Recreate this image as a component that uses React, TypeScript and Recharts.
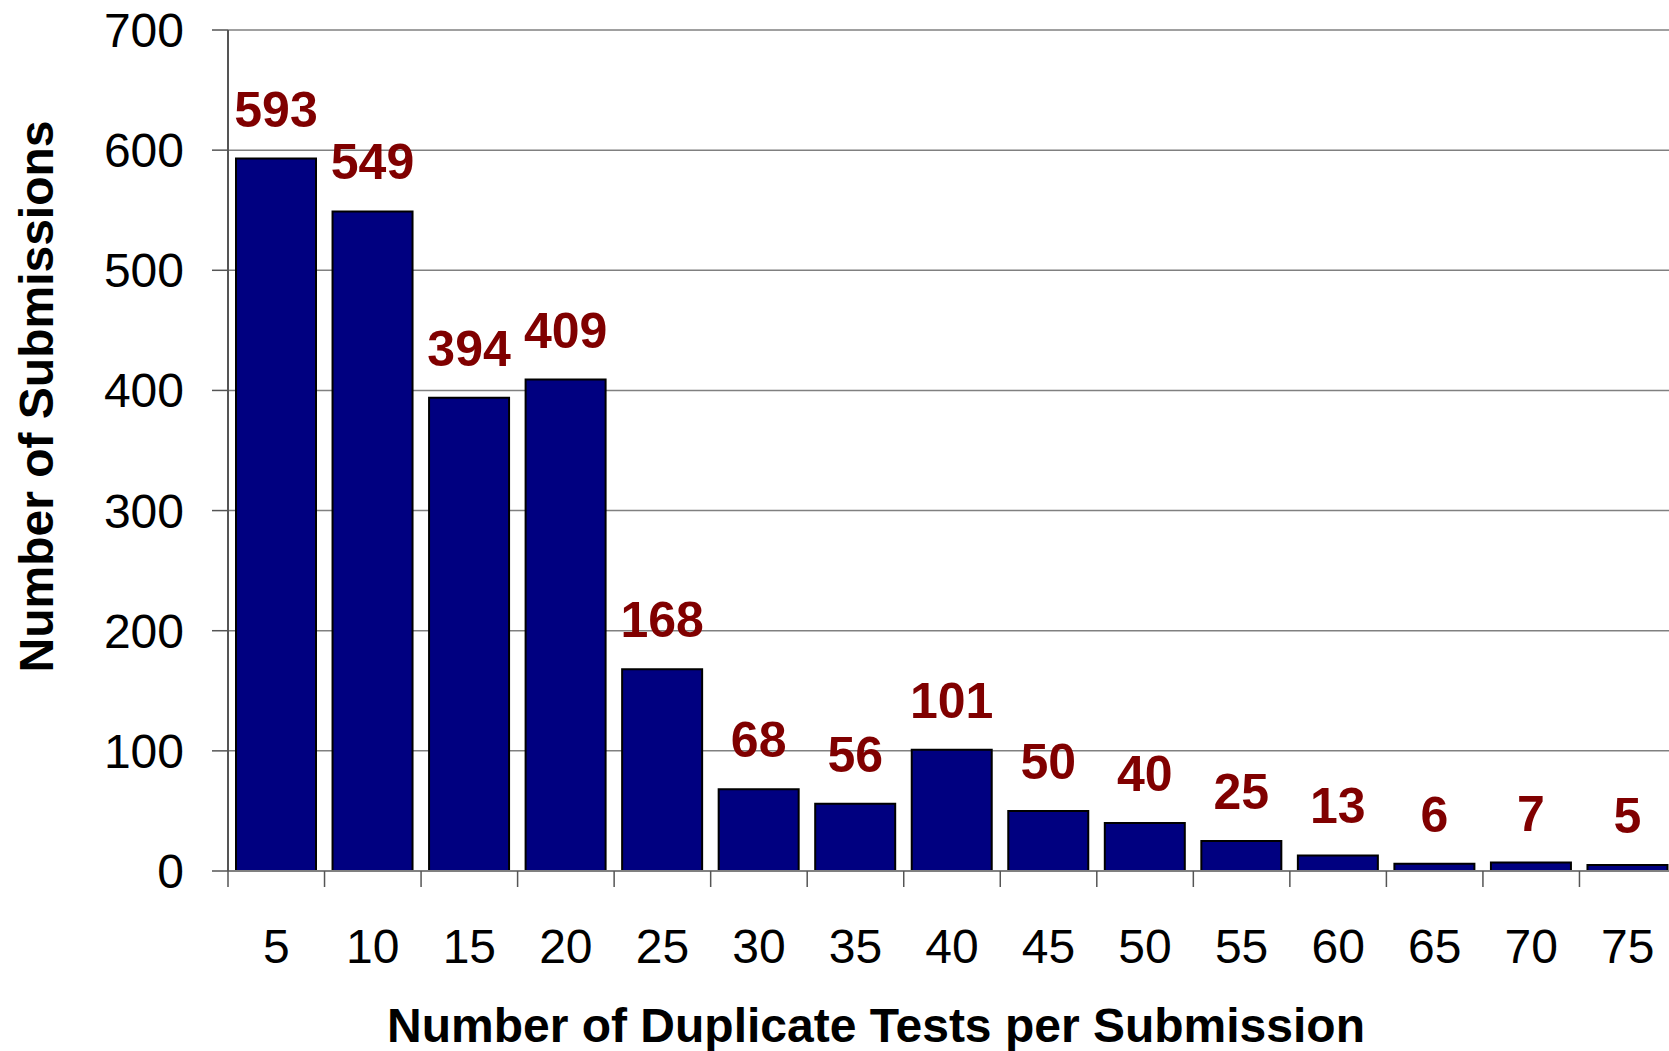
import { BarChart, Bar, XAxis, YAxis, CartesianGrid, LabelList } from "recharts";

const categories = ["5", "10", "15", "20", "25", "30", "35", "40", "45", "50", "55", "60", "65", "70", "75"];
const submissions = [593, 549, 394, 409, 168, 68, 56, 101, 50, 40, 25, 13, 6, 7, 5];
const yTicks = [0, 100, 200, 300, 400, 500, 600, 700];

const data = categories.map((c, i) => ({ dup: c, count: submissions[i] }));

const FONT = "Arial, 'Liberation Sans', Helvetica, sans-serif";

function BoundaryTick(props: any) {
  const { x, y, payload } = props;
  const half = payload?.offset ?? 48;
  return (
    <g>
      <line x1={x - half} x2={x - half} y1={y - 16} y2={y} stroke="#555" strokeWidth={1.5} />
      <text x={x} y={y + 76} textAnchor="middle" fontSize={48} fontFamily={FONT} fill="#000">
        {payload.value}
      </text>
    </g>
  );
}

function XTitle(props: any) {
  const vb = props.viewBox || {};
  return (
    <text
      x={vb.x + vb.width / 2 - 76}
      y={vb.y + 171}
      textAnchor="middle"
      fontSize={48}
      fontWeight="bold"
      fontFamily={FONT}
      fill="#000"
    >
      Number of Duplicate Tests per Submission
    </text>
  );
}

function YTitle(props: any) {
  const vb = props.viewBox || {};
  const cx = 53;
  const cy = vb.y + vb.height / 2 - 54;
  return (
    <text
      x={cx}
      y={cy}
      transform={`rotate(-90, ${cx}, ${cy})`}
      textAnchor="middle"
      fontSize={48}
      fontWeight="bold"
      fontFamily={FONT}
      fill="#000"
    >
      Number of Submissions
    </text>
  );
}

export default function App() {
  return (
    <div
      style={{
        position: "fixed",
        left: 0,
        top: 0,
        width: 1669,
        height: 1051,
        overflow: "hidden",
        background: "#fff",
      }}
    >
      <BarChart
        width={1680}
        height={1051}
        data={data}
        margin={{ top: 30, right: 4, bottom: 0, left: 0 }}
        barSize={80}
      >
        <CartesianGrid vertical={false} stroke="#808080" strokeWidth={1.5} />
        <XAxis
          dataKey="dup"
          height={180}
          tickSize={16}
          tickMargin={0}
          tickLine={false}
          interval={0}
          axisLine={{ stroke: "#808080", strokeWidth: 2 }}
          tick={<BoundaryTick />}
          label={<XTitle />}
        />
        <YAxis
          width={228}
          domain={[0, 700]}
          ticks={yTicks}
          interval={0}
          tickSize={16}
          tickMargin={28}
          axisLine={{ stroke: "#555", strokeWidth: 2 }}
          tickLine={{ stroke: "#555", strokeWidth: 1.5 }}
          tick={{ fontSize: 48, fontFamily: FONT, fill: "#000" }}
          label={<YTitle />}
        />
        <Bar dataKey="count" fill="#000080" stroke="#000" strokeWidth={2} isAnimationActive={false}>
          <LabelList
            dataKey="count"
            position="top"
            offset={32}
            fill="#800000"
            fontSize={50}
            fontWeight="bold"
            fontFamily={FONT}
          />
        </Bar>
      </BarChart>
    </div>
  );
}
